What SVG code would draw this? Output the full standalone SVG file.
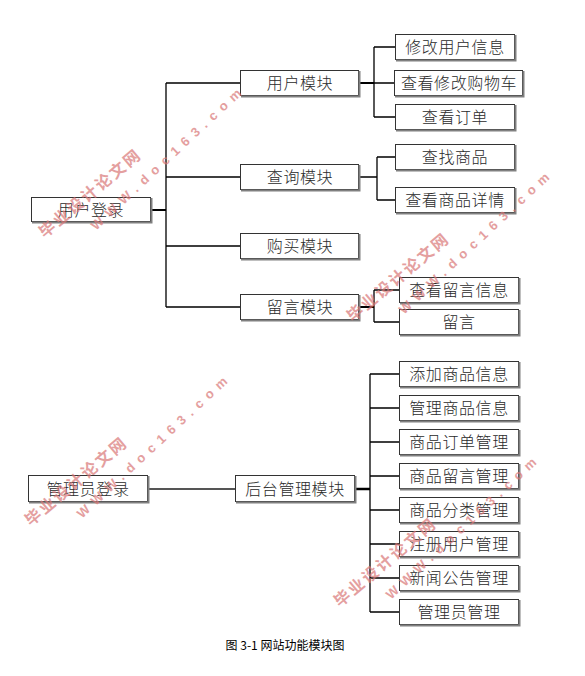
<svg xmlns="http://www.w3.org/2000/svg" width="585" height="676" viewBox="0 0 585 676">
<style>
.box{fill:#fff;stroke:#333;stroke-width:1}
.sh{fill:none;stroke:#808080;stroke-width:2}
.lbl{font-family:"Noto Sans CJK SC","Noto Sans",sans-serif;font-size:16px;font-weight:300;fill:#2a2a2a;text-anchor:middle;letter-spacing:0.6px}
.ln{fill:none;stroke:#000;stroke-width:1.3}
.thick{fill:none;stroke:#000;stroke-width:2}
.cap{font-family:"Noto Sans CJK SC","Noto Sans",sans-serif;font-size:12px;fill:#000;text-anchor:middle}
.wm{fill:#d97777;opacity:0.7;font-family:"Liberation Sans","Noto Sans CJK SC",sans-serif;font-weight:bold}
</style>
<defs>
<g id="wmark">
<text class="wm" transform="rotate(-40)" x="-8" y="6" font-size="16" textLength="126" lengthAdjust="spacing">毕业设计论文网</text>
<text class="wm" transform="translate(50,-6) rotate(-43)" x="-6" y="5" font-size="13" textLength="200" lengthAdjust="spacing">WWW.doc163.com</text>
</g>
</defs>
<rect width="585" height="676" fill="#fff"/>
<g id="connectors">
<path class="thick" d="M151 210H166"/>
<path class="ln" d="M166 83V307M166 83H240M166 177H240M166 246H240M166 307H240"/>
<path class="thick" d="M359 83H374"/>
<path class="ln" d="M374 47V117M374 47H395M374 83H394M374 117H395"/>
<path class="ln" d="M359 177H377M377 157V200M377 157H395M377 200H395"/>
<path class="thick" d="M359 307H374"/>
<path class="ln" d="M374 290V322M374 290H399M374 322H399"/>
<path fill="none" stroke="#555" stroke-width="2" d="M148 489H235"/>
<path fill="none" stroke="#000" stroke-width="2.5" d="M355 489H370"/>
<path class="ln" d="M370 374V612M370 374H399M370 408H399M370 442H399M370 476H399M370 510H399M370 544H399M370 578H399M370 612H399"/>
</g>
<g id="n_user_login"><rect class="box" x="31.5" y="197.5" width="119" height="24"/><path class="sh" d="M151.5 198V222.5H32"/><text class="lbl" x="91" y="215.5">用户登录</text></g>
<g id="n_user_mod"><rect class="box" x="240.5" y="70.5" width="118" height="25"/><path class="sh" d="M359.5 71V96.5H241"/><text class="lbl" x="300" y="89">用户模块</text></g>
<g id="n_query_mod"><rect class="box" x="240.5" y="164.5" width="118" height="25"/><path class="sh" d="M359.5 165V190.5H241"/><text class="lbl" x="300" y="183">查询模块</text></g>
<g id="n_buy_mod"><rect class="box" x="240.5" y="233.5" width="118" height="25"/><path class="sh" d="M359.5 234V259.5H241"/><text class="lbl" x="300" y="252">购买模块</text></g>
<g id="n_msg_mod"><rect class="box" x="240.5" y="294.5" width="118" height="25"/><path class="sh" d="M359.5 295V320.5H241"/><text class="lbl" x="300" y="313">留言模块</text></g>
<g id="n_edit_info"><rect class="box" x="395.5" y="34.5" width="119" height="25"/><path class="sh" d="M515.5 35V60.5H396"/><text class="lbl" x="455" y="53">修改用户信息</text></g>
<g id="n_cart"><rect class="box" x="394.5" y="70.5" width="128" height="25"/><path class="sh" d="M523.5 71V96.5H395"/><text class="lbl" x="459" y="89">查看修改购物车</text></g>
<g id="n_order"><rect class="box" x="395.5" y="104.5" width="119" height="25"/><path class="sh" d="M515.5 105V130.5H396"/><text class="lbl" x="455" y="123">查看订单</text></g>
<g id="n_find"><rect class="box" x="395.5" y="144.5" width="119" height="25"/><path class="sh" d="M515.5 145V170.5H396"/><text class="lbl" x="455" y="163">查找商品</text></g>
<g id="n_detail"><rect class="box" x="395.5" y="187.5" width="119" height="25"/><path class="sh" d="M515.5 188V213.5H396"/><text class="lbl" x="455" y="206">查看商品详情</text></g>
<g id="n_view_msg"><rect class="box" x="399.5" y="277.5" width="119" height="25"/><path class="sh" d="M519.5 278V303.5H400"/><text class="lbl" x="459" y="296">查看留言信息</text></g>
<g id="n_msg"><rect class="box" x="399.5" y="309.5" width="119" height="25"/><path class="sh" d="M519.5 310V335.5H400"/><text class="lbl" x="459" y="328">留言</text></g>
<g id="n_admin_login"><rect class="box" x="28.5" y="475.5" width="119" height="26"/><path class="sh" d="M148.5 476V502.5H29"/><text class="lbl" x="88" y="494.5">管理员登录</text></g>
<g id="n_backend"><rect class="box" x="235.5" y="475.5" width="119" height="26"/><path class="sh" d="M355.5 476V502.5H236"/><text class="lbl" x="295" y="494.5">后台管理模块</text></g>
<g id="n_add_goods"><rect class="box" x="399.5" y="361.5" width="119" height="25"/><path class="sh" d="M519.5 362V387.5H400"/><text class="lbl" x="459" y="380">添加商品信息</text></g>
<g id="n_manage_goods"><rect class="box" x="399.5" y="395.5" width="119" height="25"/><path class="sh" d="M519.5 396V421.5H400"/><text class="lbl" x="459" y="414">管理商品信息</text></g>
<g id="n_goods_order"><rect class="box" x="399.5" y="429.5" width="119" height="25"/><path class="sh" d="M519.5 430V455.5H400"/><text class="lbl" x="459" y="448">商品订单管理</text></g>
<g id="n_goods_msg"><rect class="box" x="399.5" y="463.5" width="119" height="25"/><path class="sh" d="M519.5 464V489.5H400"/><text class="lbl" x="459" y="482">商品留言管理</text></g>
<g id="n_goods_cat"><rect class="box" x="399.5" y="497.5" width="119" height="25"/><path class="sh" d="M519.5 498V523.5H400"/><text class="lbl" x="459" y="516">商品分类管理</text></g>
<g id="n_reg_user"><rect class="box" x="399.5" y="531.5" width="119" height="25"/><path class="sh" d="M519.5 532V557.5H400"/><text class="lbl" x="459" y="550">注册用户管理</text></g>
<g id="n_news"><rect class="box" x="399.5" y="565.5" width="119" height="25"/><path class="sh" d="M519.5 566V591.5H400"/><text class="lbl" x="459" y="584">新闻公告管理</text></g>
<g id="n_admin_mgr"><rect class="box" x="399.5" y="599.5" width="119" height="25"/><path class="sh" d="M519.5 600V625.5H400"/><text class="lbl" x="459" y="618">管理员管理</text></g>
<text class="cap" x="285" y="650">图 3-1 网站功能模块图</text>
<g id="watermarks">
<use href="#wmark" transform="translate(47,229)"/>
<use href="#wmark" transform="translate(355,313)"/>
<use href="#wmark" transform="translate(33,517)"/>
<use href="#wmark" transform="translate(342,598)"/>
</g>
</svg>
